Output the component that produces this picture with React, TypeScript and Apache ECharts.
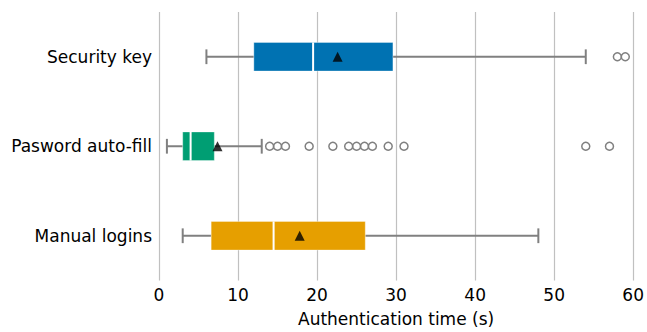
import React, { useEffect, useRef } from "react";
import * as echarts from "echarts";

const categories = ["Security key", "Pasword auto-fill", "Manual logins"];
const whiskerLow = [6, 1, 3];
const quartile1 = [12, 3, 6.6];
const medians = [19.5, 4, 14.5];
const quartile3 = [29.6, 7, 26.1];
const whiskerHigh = [54, 13, 48];
const means = [22.6, 7.4, 17.8];
const outliersSecurity = [58, 59];
const outliersAutofill = [14, 15, 16, 19, 22, 24, 25, 26, 27, 29, 31, 54, 57];
const outliersManual: number[] = [];
const xTicks = { min: 0, max: 60, interval: 10 };

const boxColors = ["#0072B2", "#009E73", "#E69F00"];
const FONT = "DejaVu Sans";

export default function App() {
  const ref = useRef<HTMLDivElement>(null);
  useEffect(() => {
    if (!ref.current) return;
    const chart = echarts.init(ref.current, null, { renderer: "svg", width: 647, height: 332 });
    const boxData = categories.map((_, i) => [
      i,
      whiskerLow[i],
      quartile1[i],
      medians[i],
      quartile3[i],
      whiskerHigh[i],
    ]);
    const outlierGroups = [outliersSecurity, outliersAutofill, outliersManual];
    const outlierData: any[] = [];
    outlierGroups.forEach((arr, i) => arr.forEach((v) => outlierData.push([v, categories[i]])));
    const meanData = means.map((m, i) => [m, categories[i]]);

    chart.setOption({
      animation: false,
      grid: { left: 159, right: 10, top: 12, bottom: 48, containLabel: false },
      xAxis: {
        type: "value",
        min: xTicks.min,
        max: xTicks.max,
        interval: xTicks.interval,
        axisLine: { show: false },
        axisTick: { show: false },
        splitLine: { show: true, lineStyle: { color: "#c0c0c0", width: 1.2 } },
        axisLabel: { fontSize: 17, color: "#000", margin: 6, fontFamily: FONT },
        name: "Authentication time (s)",
        nameLocation: "middle",
        nameGap: 29.5,
        nameTextStyle: { fontSize: 17, color: "#000", fontFamily: FONT },
      },
      yAxis: {
        type: "category",
        data: categories,
        inverse: true,
        axisLine: { show: false },
        axisTick: { show: false },
        splitLine: { show: false },
        axisLabel: { fontSize: 17, color: "#000", margin: 7, fontFamily: FONT },
      },
      series: [
        {
          type: "custom",
          data: boxData,
          encode: { x: [1, 2, 3, 4, 5], y: 0 },
          z: 2,
          renderItem: (params: any, api: any) => {
            const cat = api.value(0);
            const pMin = api.coord([api.value(1), cat]);
            const pQ1 = api.coord([api.value(2), cat]);
            const pMed = api.coord([api.value(3), cat]);
            const pQ3 = api.coord([api.value(4), cat]);
            const pMax = api.coord([api.value(5), cat]);
            const band = api.size([0, 1])[1];
            const boxH = band * 0.32;
            const capH = band * 0.165;
            const y = pMed[1];
            const wStyle = { stroke: "#808080", lineWidth: 2 };
            return {
              type: "group",
              children: [
                { type: "line", shape: { x1: pMin[0], y1: y, x2: pQ1[0], y2: y }, style: wStyle },
                { type: "line", shape: { x1: pQ3[0], y1: y, x2: pMax[0], y2: y }, style: wStyle },
                { type: "line", shape: { x1: pMin[0], y1: y - capH / 2, x2: pMin[0], y2: y + capH / 2 }, style: wStyle },
                { type: "line", shape: { x1: pMax[0], y1: y - capH / 2, x2: pMax[0], y2: y + capH / 2 }, style: wStyle },
                {
                  type: "rect",
                  shape: { x: pQ1[0], y: y - boxH / 2, width: pQ3[0] - pQ1[0], height: boxH },
                  style: { fill: boxColors[cat], stroke: "rgba(255,255,255,0.35)", lineWidth: 1 },
                },
                {
                  type: "line",
                  shape: { x1: pMed[0], y1: y - boxH / 2, x2: pMed[0], y2: y + boxH / 2 },
                  style: { stroke: "#ffffff", lineWidth: 2 },
                },
              ],
            };
          },
        },
        {
          type: "scatter",
          data: outlierData,
          symbol: "circle",
          symbolSize: 8,
          z: 3,
          itemStyle: { color: "rgba(255,255,255,0)", borderColor: "#808080", borderWidth: 1.5, opacity: 1 },
        },
        {
          type: "scatter",
          data: meanData,
          symbol: "triangle",
          symbolSize: [10, 10],
          z: 4,
          itemStyle: { color: "#000000" },
        },
      ],
    });
    return () => chart.dispose();
  }, []);
  return (
    <div
      ref={ref}
      style={{ position: "absolute", left: 0, top: 0, width: 647, height: 332 }}
    />
  );
}
